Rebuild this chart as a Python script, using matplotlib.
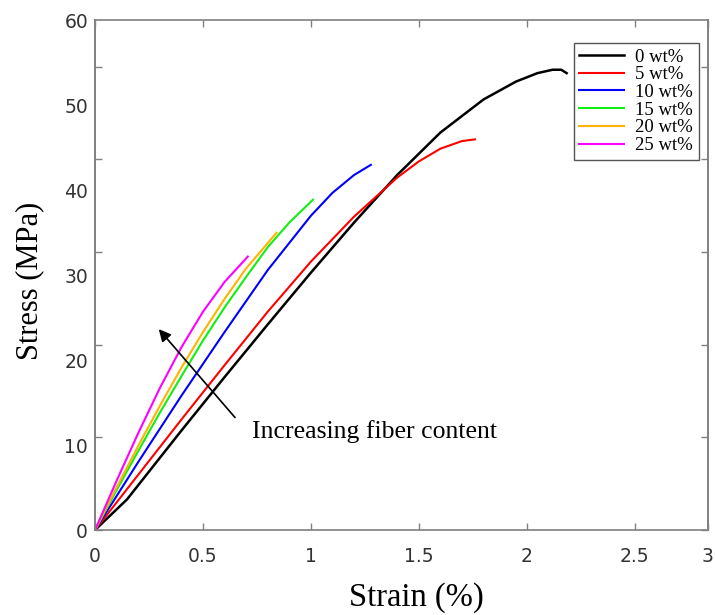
import matplotlib
matplotlib.use("Agg")
import matplotlib.pyplot as plt

# 讀圖估計的應力-應變資料 (strain %, stress MPa)
strain_0 = [0, 0.148, 0.4, 0.6, 0.8, 1.0, 1.2, 1.4, 1.6, 1.8, 1.95, 2.05, 2.12, 2.16, 2.185]
stress_0 = [0, 3.6, 11.7, 18.0, 24.2, 30.3, 36.2, 41.8, 46.8, 50.7, 52.8, 53.8, 54.2, 54.2, 53.8]

strain_5 = [0, 0.2, 0.4, 0.6, 0.8, 1.0, 1.2, 1.4, 1.5, 1.6, 1.7, 1.76]
stress_5 = [0, 6.5, 13.0, 19.4, 25.7, 31.6, 36.9, 41.5, 43.4, 44.9, 45.8, 46.0]

strain_10 = [0, 0.2, 0.4, 0.6, 0.8, 1.0, 1.1, 1.2, 1.278]
stress_10 = [0, 8.0, 15.8, 23.3, 30.6, 37.0, 39.7, 41.8, 43.0]

strain_15 = [0, 0.1, 0.2, 0.3, 0.4, 0.5, 0.6, 0.7, 0.8, 0.9, 1.01]
stress_15 = [0, 4.7, 9.3, 13.8, 18.1, 22.3, 26.2, 29.8, 33.3, 36.2, 38.9]

strain_20 = [0, 0.1, 0.2, 0.3, 0.4, 0.5, 0.6, 0.7, 0.841]
stress_20 = [0, 5.0, 9.9, 14.6, 19.1, 23.3, 27.2, 30.8, 35.0]

strain_25 = [0, 0.1, 0.2, 0.3, 0.4, 0.5, 0.6, 0.708]
stress_25 = [0, 5.8, 11.4, 16.7, 21.5, 25.7, 29.2, 32.2]

labels = ["0 wt%", "5 wt%", "10 wt%", "15 wt%", "20 wt%", "25 wt%"]
colors = ["black", "#ff0000", "#0000ff", "#11ee11", "#ffb300", "#ff00ff"]

x_ticks = [0, 0.5, 1, 1.5, 2, 2.5]
x_ticklabels = ["0", "0.5", "1", "1.5", "2", "2.5", "3"]
y_ticks = [0, 10, 20, 30, 40, 50, 60]

X_MAX = 2.84
GRAY = "#808080"
SERIF = ["Liberation Serif", "DejaVu Serif"]

fig = plt.figure(figsize=(7.15, 6.15), dpi=100)
ax = fig.add_axes([0.1329, 0.1382, 0.8573, 0.8285])

curves = [(strain_0, stress_0), (strain_5, stress_5), (strain_10, stress_10),
          (strain_15, stress_15), (strain_20, stress_20), (strain_25, stress_25)]
for (x, y), lab, c in zip(curves, labels, colors):
    ax.plot(x, y, color=c, lw=1.8 if c == "black" else 1.5, label=lab)

ax.set_xlim(0, X_MAX)
ax.set_ylim(0, 60)

for s in ax.spines.values():
    s.set_color(GRAY)
    s.set_linewidth(1.2)

# x 軸刻度
ax.set_xticks(x_ticks + [X_MAX])
ax.set_xticklabels(x_ticklabels)
ax.tick_params(axis="x", direction="in", length=5, width=1, color=GRAY, top=True,
               labelsize=13.5, labelcolor="#333333", pad=12)

# y 軸標籤 (刻度線另外畫)
ax.set_yticks(y_ticks)
ax.tick_params(axis="y", length=0, labelsize=13.5, labelcolor="#333333", pad=5)

fwd = lambda v: v * 55 / 60
inv = lambda v: v * 60 / 55
for side in ["left", "right"]:
    sec = ax.secondary_yaxis(side, functions=(fwd, inv))
    sec.set_yticks(range(0, 51, 10))
    sec.tick_params(direction="in", length=5, width=1, color=GRAY,
                    labelleft=False, labelright=False)
    sec.spines[side].set_color(GRAY)
    sec.spines[side].set_linewidth(1.2)

for lab in ax.get_xticklabels() + ax.get_yticklabels():
    lab.set_family("DejaVu Sans")

ax.set_xlabel("Strain (%)", fontsize=23.5, family=SERIF)
ax.xaxis.set_label_coords(0.524, -0.102)
ax.set_ylabel("Stress (MPa)", fontsize=22, family=SERIF)
ax.yaxis.set_label_coords(-0.083, 0.489)

ax.annotate("", xy=(0.287, 23.9), xytext=(0.657, 13.0),
            arrowprops=dict(arrowstyle="-|>", color="black", lw=1.2,
                            mutation_scale=18))
ax.text(0.727, 11.6, "Increasing fiber content", fontsize=18.5, family=SERIF,
        ha="left", va="center")

leg = ax.legend(loc="upper right", bbox_to_anchor=(0.985, 0.956), borderaxespad=0,
                prop={"family": SERIF, "size": 13.5}, labelspacing=0.03,
                handlelength=2.4, handletextpad=0.6, borderpad=0.3,
                fancybox=False, framealpha=1)
leg.get_frame().set_edgecolor("#555555")
leg.get_frame().set_linewidth(1.0)

fig.savefig("out.png", dpi=100)
